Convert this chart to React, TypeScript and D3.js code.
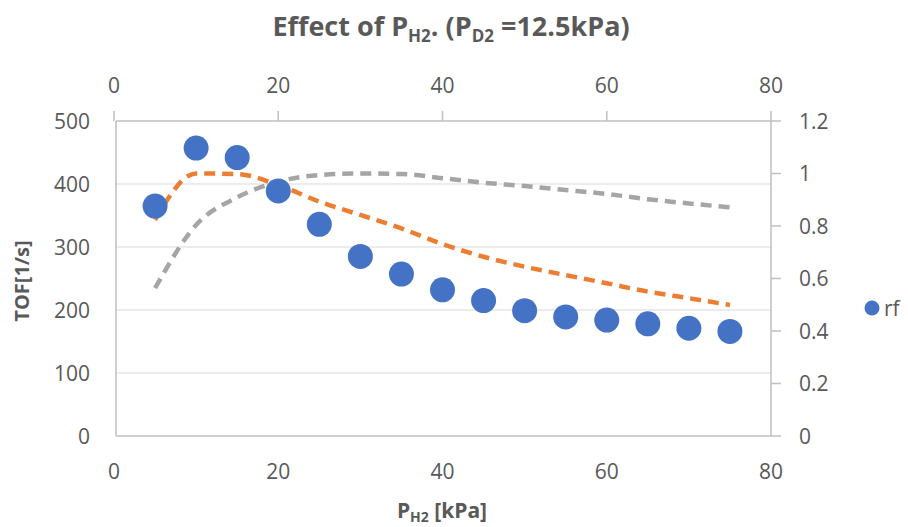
import React from "react";
import * as d3 from "d3";

// Partial pressure of H2 [kPa]
const pH2 = [5, 10, 15, 20, 25, 30, 35, 40, 45, 50, 55, 60, 65, 70, 75];
// Turnover frequency, rf series [1/s] (primary axes)
const rf = [365, 457, 442, 389, 336, 285, 257, 232, 215, 199, 189, 184, 178, 171, 166];
// Two model curves on the secondary axes
const seriesOrange = [0.823, 1.0, 0.998, 0.956, 0.893, 0.842, 0.791, 0.731, 0.683, 0.645, 0.613, 0.582, 0.55, 0.525, 0.499];
const seriesGray = [0.563, 0.804, 0.909, 0.969, 0.994, 1.0, 0.998, 0.982, 0.965, 0.952, 0.937, 0.922, 0.902, 0.886, 0.871];

const xTicks = [0, 20, 40, 60, 80];
const yLeftTicks = [0, 100, 200, 300, 400, 500];
const yRightTicks = [0, 0.2, 0.4, 0.6, 0.8, 1, 1.2];

const W = 908;
const H = 527;
const L = 116;
const R = 771;
const T = 121;
const B = 436;

const FONT = "'Open Sans', 'Noto Sans', sans-serif";
const TXT = "#595959";
const AX = "#BFBFBF";
const TICK_FS = 21;

export default function App() {
  const x = d3.scaleLinear().domain([0, 80]).range([L - 2, R]);
  const yL = d3.scaleLinear().domain([0, 500]).range([B, T]);
  const yR = d3.scaleLinear().domain([0, 1.2]).range([B, T]);

  const line = d3
    .line<number>()
    .x((_, i) => x(pH2[i]))
    .y((d) => yR(d))
    .curve(d3.curveMonotoneX);

  return (
    <svg width={W} height={H} style={{ position: "absolute", left: 0, top: 0, background: "#fff" }}>
      <rect x={0} y={0} width={W} height={H} fill="#fff" />
      {/* Title */}
      <text x={451} y={36} textAnchor="middle" fontFamily={FONT} fontWeight={700} fontSize={27} fill={TXT}>
        Effect of P<tspan fontSize={17} dy={6}>H2</tspan>
        <tspan dy={-6}>. (P</tspan>
        <tspan fontSize={17} dy={6}>D2</tspan>
        <tspan dy={-6}> =12.5kPa)</tspan>
      </text>

      {/* Horizontal gridlines */}
      {yLeftTicks.slice(1, -1).map((t) => (
        <line key={t} x1={L} x2={R} y1={yL(t)} y2={yL(t)} stroke="#D9D9D9" strokeWidth={1} />
      ))}

      {/* Axes lines */}
      <line x1={L} x2={R} y1={T} y2={T} stroke={AX} strokeWidth={1.5} />
      <line x1={L} x2={R} y1={B} y2={B} stroke={AX} strokeWidth={1.5} />
      <line x1={L} x2={L} y1={T} y2={B} stroke={AX} strokeWidth={1.5} />
      <line x1={R} x2={R} y1={T} y2={B} stroke={AX} strokeWidth={1.5} />

      {/* Top axis ticks */}
      {xTicks.map((t) => (
        <line key={"tt" + t} x1={x(t)} x2={x(t)} y1={T} y2={T - 10} stroke={AX} strokeWidth={1.5} />
      ))}
      {/* Right axis ticks */}
      {yRightTicks.map((t) => (
        <line key={"rt" + t} x1={R} x2={R + 10} y1={yR(t)} y2={yR(t)} stroke={AX} strokeWidth={1.5} />
      ))}

      {/* Tick labels */}
      {xTicks.map((t) => (
        <text key={"tl" + t} x={x(t)} y={93} textAnchor="middle" fontFamily={FONT} fontSize={TICK_FS} fill={TXT}>
          {t}
        </text>
      ))}
      {xTicks.map((t) => (
        <text key={"bl" + t} x={x(t)} y={479} textAnchor="middle" fontFamily={FONT} fontSize={TICK_FS} fill={TXT}>
          {t}
        </text>
      ))}
      {yLeftTicks.map((t) => (
        <text key={"ll" + t} x={90} y={yL(t) + 7.5} textAnchor="end" fontFamily={FONT} fontSize={TICK_FS} fill={TXT}>
          {t}
        </text>
      ))}
      {yRightTicks.map((t) => (
        <text key={"rl" + t} x={799} y={yR(t) + 7.5} textAnchor="start" fontFamily={FONT} fontSize={TICK_FS} fill={TXT}>
          {d3.format("~g")(t)}
        </text>
      ))}

      {/* Axis titles */}
      <text
        transform={`translate(29,${281}) rotate(-90)`}
        textAnchor="middle"
        fontFamily={FONT}
        fontWeight={700}
        fontSize={20}
        fill={TXT}
      >
        TOF[1/s]
      </text>
      <text x={442} y={518} textAnchor="middle" fontFamily={FONT} fontWeight={700} fontSize={21} fill={TXT}>
        P<tspan fontSize={14} dy={4}>H2</tspan>
        <tspan dy={-4}> [kPa]</tspan>
      </text>

      {/* Model curves */}
      <path d={line(seriesGray) || ""} fill="none" stroke="#A5A5A5" strokeWidth={4.5} strokeDasharray="11 7" />
      <path d={line(seriesOrange) || ""} fill="none" stroke="#ED7D31" strokeWidth={4.5} strokeDasharray="11 7" />

      {/* rf markers */}
      {rf.map((v, i) => (
        <circle key={i} cx={x(pH2[i])} cy={yL(v)} r={12.5} fill="#4472C4" />
      ))}

      {/* Legend */}
      <circle cx={872} cy={308} r={7.5} fill="#4472C4" />
      <text x={884} y={316} fontFamily={FONT} fontSize={TICK_FS} fill={TXT}>
        rf
      </text>
    </svg>
  );
}
